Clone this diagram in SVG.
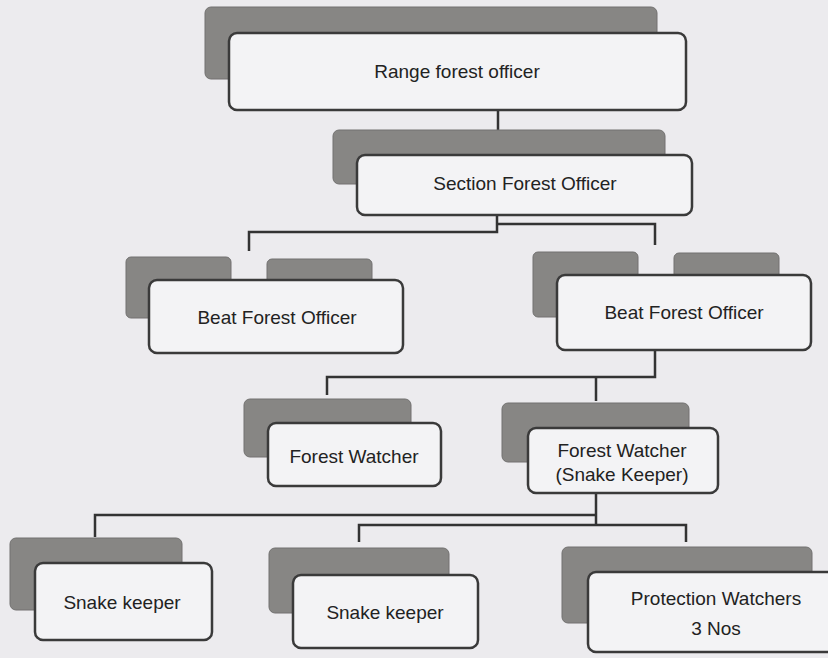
<svg xmlns="http://www.w3.org/2000/svg" width="828" height="658" viewBox="0 0 828 658">
<style>
.bg{fill:#ecebee}
.sh{fill:#878684;stroke:#727170;stroke-width:1}
.bx{fill:#f3f3f5;stroke:#3a3a3a;stroke-width:2.5}
.t{font-family:"Liberation Sans",Arial,sans-serif;font-size:19px;fill:#222;text-anchor:middle}
.c{fill:none;stroke:#333;stroke-width:2.5}
</style>
<rect class="bg" x="0" y="0" width="828" height="658"/>
<g id="connectors">
<path class="c" d="M498,110 V130"/>
<path class="c" d="M497,215 V232 H249 V251"/>
<path class="c" d="M497,224 H655 V245"/>
<path class="c" d="M655,350 V377 H327 V395"/>
<path class="c" d="M596,377 V401"/>
<path class="c" d="M596,493 V525"/>
<path class="c" d="M596,515 H95 V537"/>
<path class="c" d="M359,542 V525 H686 V542"/>
</g>
<g id="range-forest-officer">
<rect class="sh" x="205" y="7" width="452" height="72" rx="6"/>
<rect class="bx" x="229" y="33" width="457" height="77" rx="8"/>
<text class="t" x="457" y="78">Range forest officer</text>
</g>
<g id="section-forest-officer">
<rect class="sh" x="333" y="130" width="332" height="54" rx="6"/>
<rect class="bx" x="357" y="155" width="335" height="60" rx="8"/>
<text class="t" x="525" y="190">Section Forest Officer</text>
</g>
<g id="beat-forest-officer-1">
<rect class="sh" x="126" y="257" width="105" height="61" rx="5"/>
<rect class="sh" x="267" y="259" width="105" height="40" rx="5"/>
<rect class="bx" x="149" y="280" width="254" height="73" rx="8"/>
<text class="t" x="277" y="324">Beat Forest Officer</text>
</g>
<g id="beat-forest-officer-2">
<rect class="sh" x="533" y="252" width="105" height="65" rx="5"/>
<rect class="sh" x="674" y="253" width="105" height="40" rx="5"/>
<rect class="bx" x="557" y="275" width="254" height="75" rx="8"/>
<text class="t" x="684" y="319">Beat Forest Officer</text>
</g>
<g id="forest-watcher">
<rect class="sh" x="244" y="399" width="167" height="58" rx="6"/>
<rect class="bx" x="268" y="423" width="173" height="63" rx="8"/>
<text class="t" x="354" y="463">Forest Watcher</text>
</g>
<g id="forest-watcher-snake-keeper">
<rect class="sh" x="502" y="403" width="187" height="59" rx="6"/>
<rect class="bx" x="528" y="428" width="190" height="65" rx="8"/>
<text class="t" x="622" y="457">Forest Watcher</text>
<text class="t" x="622" y="481">(Snake Keeper)</text>
</g>
<g id="snake-keeper-1">
<rect class="sh" x="10" y="538" width="172" height="72" rx="6"/>
<rect class="bx" x="35" y="563" width="177" height="77" rx="8"/>
<text class="t" x="122" y="609">Snake keeper</text>
</g>
<g id="snake-keeper-2">
<rect class="sh" x="269" y="548" width="180" height="65" rx="6"/>
<rect class="bx" x="293" y="575" width="185" height="73" rx="8"/>
<text class="t" x="385" y="619">Snake keeper</text>
</g>
<g id="protection-watchers">
<rect class="sh" x="562" y="547" width="250" height="76" rx="6"/>
<rect class="bx" x="588" y="572" width="250" height="80" rx="8"/>
<text class="t" x="716" y="605">Protection Watchers</text>
<text class="t" x="716" y="635">3 Nos</text>
</g>
</svg>
